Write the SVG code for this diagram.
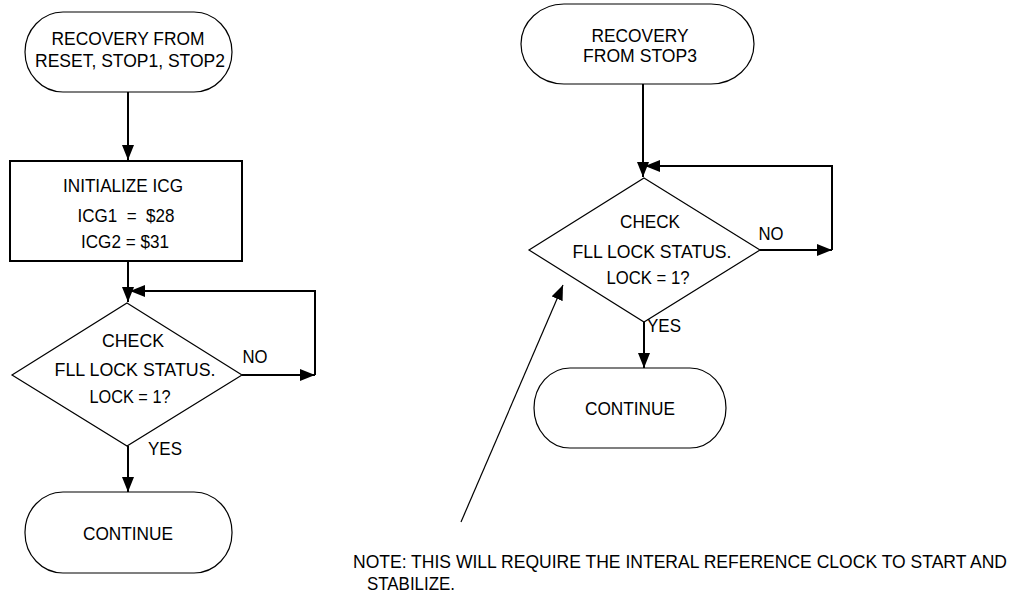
<svg xmlns="http://www.w3.org/2000/svg" width="1019" height="601" viewBox="0 0 1019 601">
<style>
text{font-family:"Liberation Sans",Arial,sans-serif;font-size:18.5px;fill:#000;text-anchor:middle}
.term{fill:#fff;stroke:#000;stroke-width:1.2}
.box{fill:#fff;stroke:#000;stroke-width:2}
.dia{fill:#fff;stroke:#000;stroke-width:1.2}
.conn{fill:none;stroke:#000;stroke-width:2}
.thin{fill:none;stroke:#000;stroke-width:1.2}
</style>
<defs>
<marker id="ah" markerUnits="userSpaceOnUse" markerWidth="16" markerHeight="12" refX="15" refY="6" orient="auto">
<path d="M0,0 L15,6 L0,12 Z" fill="#000"/>
</marker>
</defs>
<g id="connectors">
<path class="conn" d="M128,92 V160" marker-end="url(#ah)"/>
<path class="conn" d="M128,261 V302" marker-end="url(#ah)"/>
<path class="conn" d="M242,375 H315" marker-end="url(#ah)"/>
<path class="conn" d="M315,375 V291 H130" marker-end="url(#ah)"/>
<path class="conn" d="M128,446 V492" marker-end="url(#ah)"/>
<path class="conn" d="M643,84 V177" marker-end="url(#ah)"/>
<path class="conn" d="M760,250 H832" marker-end="url(#ah)"/>
<path class="conn" d="M832,250 V166 H645" marker-end="url(#ah)"/>
<path class="conn" d="M644,322 V368" marker-end="url(#ah)"/>
<path class="thin" d="M461,522 L563,285" marker-end="url(#ah)"/>
</g>
<g id="start1">
<rect class="term" x="25" y="12" width="207" height="80" rx="38" ry="40"/>
<text x="128" y="45" textLength="153" lengthAdjust="spacingAndGlyphs">RECOVERY FROM</text>
<text x="130" y="67" textLength="190" lengthAdjust="spacingAndGlyphs">RESET, STOP1, STOP2</text>
</g>
<g id="init">
<rect class="box" x="10" y="161" width="232" height="100"/>
<text x="123" y="192" textLength="120" lengthAdjust="spacingAndGlyphs">INITIALIZE ICG</text>
<text x="126" y="222" xml:space="preserve" textLength="97" lengthAdjust="spacingAndGlyphs">ICG1  =  $28</text>
<text x="125" y="248" textLength="88" lengthAdjust="spacingAndGlyphs">ICG2 = $31</text>
</g>
<g id="check1">
<polygon class="dia" points="127,303 242,375 127,446 12,375"/>
<text x="133" y="347" textLength="62" lengthAdjust="spacingAndGlyphs">CHECK</text>
<text x="135" y="376" textLength="161" lengthAdjust="spacingAndGlyphs">FLL LOCK STATUS.</text>
<text x="130" y="403" textLength="81" lengthAdjust="spacingAndGlyphs">LOCK = 1?</text>
<text x="255" y="363" textLength="25" lengthAdjust="spacingAndGlyphs">NO</text>
<text x="165" y="455" textLength="34" lengthAdjust="spacingAndGlyphs">YES</text>
</g>
<g id="continue1">
<rect class="term" x="25" y="492" width="207" height="81" rx="38" ry="40"/>
<text x="128" y="540" textLength="90" lengthAdjust="spacingAndGlyphs">CONTINUE</text>
</g>
<g id="start2">
<rect class="term" x="521" y="4" width="233" height="80" rx="43" ry="40"/>
<text x="640" y="42" textLength="97" lengthAdjust="spacingAndGlyphs">RECOVERY</text>
<text x="640" y="62" textLength="114" lengthAdjust="spacingAndGlyphs">FROM STOP3</text>
</g>
<g id="check2">
<polygon class="dia" points="644,178 760,250 644,322 529,250"/>
<text x="650" y="228" textLength="60" lengthAdjust="spacingAndGlyphs">CHECK</text>
<text x="652" y="258" textLength="159" lengthAdjust="spacingAndGlyphs">FLL LOCK STATUS.</text>
<text x="648" y="284" textLength="83" lengthAdjust="spacingAndGlyphs">LOCK = 1?</text>
<text x="771" y="240" textLength="25" lengthAdjust="spacingAndGlyphs">NO</text>
<text x="664" y="332" textLength="34" lengthAdjust="spacingAndGlyphs">YES</text>
</g>
<g id="continue2">
<rect class="term" x="534" y="368" width="192" height="80" rx="36" ry="40"/>
<text x="630" y="415" textLength="90" lengthAdjust="spacingAndGlyphs">CONTINUE</text>
</g>
<g id="note">
<text x="353" y="568" style="text-anchor:start" textLength="654" lengthAdjust="spacingAndGlyphs">NOTE: THIS WILL REQUIRE THE INTERAL REFERENCE CLOCK TO START AND</text>
<text x="367" y="590" style="text-anchor:start" textLength="88" lengthAdjust="spacingAndGlyphs">STABILIZE.</text>
</g>
</svg>
